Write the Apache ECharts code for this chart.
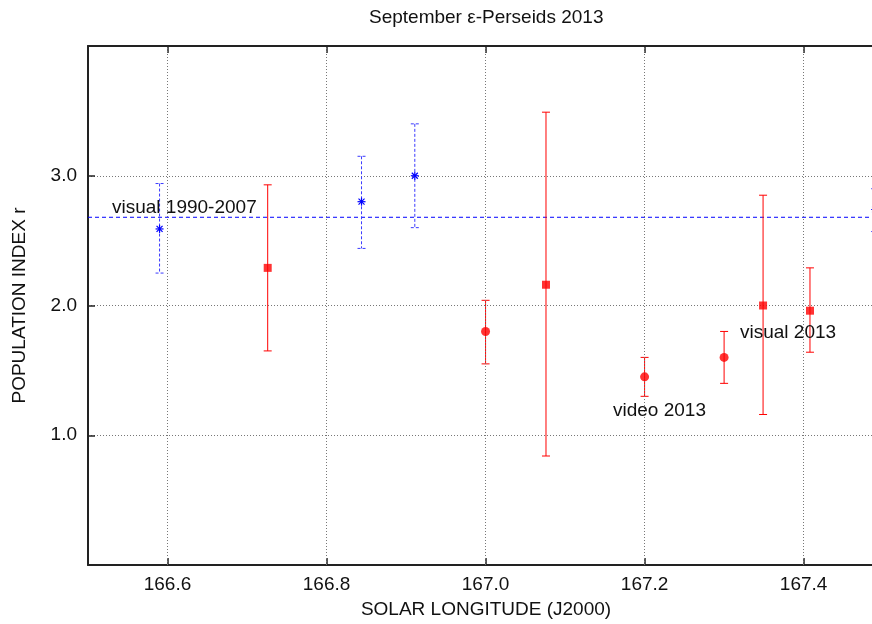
<!DOCTYPE html>
<html>
<head>
<meta charset="utf-8">
<style>
  html, body { margin: 0; padding: 0; background: #fff; }
  #chart { width: 872px; height: 624px; }
</style>
<script src="https://cdn.jsdelivr.net/npm/echarts@6/dist/echarts.min.js"></script>
</head>
<body>
<div id="chart"></div>
<script>
// Population index r of the September epsilon-Perseids, by solar longitude
const FONT = 'Liberation Sans, Arial, sans-serif';

// Visual observations 1990-2007 (blue asterisks, dashed error bars)
const visualOldLon  = [166.59, 166.844, 166.911, 167.49];
const visualOldR    = [2.59, 2.80, 3.00, 2.74];
const visualOldLow  = [2.25, 2.44, 2.60, 2.57];
const visualOldHigh = [2.94, 3.15, 3.40, 2.90];
const visualOldMean = 2.68;

// Visual observations 2013 (red squares)
const visual13Lon  = [166.726, 167.076, 167.349, 167.408];
const visual13R    = [2.29, 2.16, 2.00, 1.96];
const visual13Low  = [1.65, 0.84, 1.16, 1.64];
const visual13High = [2.93, 3.49, 2.85, 2.29];

// Video observations 2013 (red circles)
const video13Lon  = [167.0, 167.2, 167.3];
const video13R    = [1.80, 1.45, 1.60];
const video13Low  = [1.55, 1.30, 1.40];
const video13High = [2.04, 1.60, 1.80];

// Axis ticks; the visible window ends just short of 167.5
const xTicks = [166.6, 166.8, 167.0, 167.2, 167.4];
const xMin = 166.5, xMax = 167.486;
const yMin = 0, yMax = 4, yStep = 1;

function zip(...cols) {
  return cols[0].map((_, i) => cols.map(c => c[i]));
}

function segment(a, b, style) {
  return { type: 'line', shape: { x1: a[0], y1: a[1], x2: b[0], y2: b[1] }, style: style };
}

function errorBars(name, lon, low, high, stroke, dash) {
  return {
    name: name,
    type: 'custom',
    clip: true,
    z: 3,
    data: zip(lon, low, high),
    encode: { x: 0, y: [1, 2] },
    renderItem: function (params, api) {
      const x = api.value(0);
      const top = api.coord([x, api.value(2)]);
      const bot = api.coord([x, api.value(1)]);
      const w = 4;
      const style = { stroke: stroke, lineWidth: 1, lineDash: dash, fill: null };
      return {
        type: 'group',
        children: [
          segment(top, bot, style),
          segment([top[0] - w, top[1]], [top[0] + w, top[1]], style),
          segment([bot[0] - w, bot[1]], [bot[0] + w, bot[1]], style)
        ]
      };
    }
  };
}

const chart = echarts.init(document.getElementById('chart'), null, { renderer: 'canvas' });

const option = {
  animation: false,
  backgroundColor: '#ffffff',
  textStyle: { fontFamily: FONT },
  title: {
    text: 'September \u03b5-Perseids 2013',
    left: 369,
    top: 8,
    padding: 0,
    textStyle: { fontFamily: FONT, fontSize: 19, fontWeight: 'normal', color: '#111' }
  },
  grid: { left: 88, top: 46, right: 0, bottom: 57, containLabel: false },
  xAxis: [
    {
      type: 'value',
      min: xMin,
      max: xMax,
      name: 'SOLAR LONGITUDE (J2000)',
      nameLocation: 'middle',
      nameGap: 35,
      nameTextStyle: { fontFamily: FONT, fontSize: 19, color: '#111', padding: [0, 0, 0, 12] },
      axisLine: { show: true, onZero: false, lineStyle: { color: '#222', width: 2 } },
      axisTick: { show: true, inside: true, length: 7, customValues: xTicks, lineStyle: { color: '#222', width: 1.5 } },
      axisLabel: {
        customValues: xTicks,
        margin: 10,
        fontFamily: FONT, fontSize: 19, color: '#111',
        formatter: v => Number(v).toFixed(1)
      },
      splitLine: { show: false }
    },
    {
      type: 'value',
      position: 'top',
      min: xMin,
      max: xMax,
      axisLine: { show: true, onZero: false, lineStyle: { color: '#222', width: 2 } },
      axisTick: { show: true, inside: true, length: 7, customValues: xTicks, lineStyle: { color: '#222', width: 1.5 } },
      axisLabel: { show: false },
      splitLine: { show: false }
    }
  ],
  yAxis: {
    type: 'value',
    min: yMin,
    max: yMax,
    interval: yStep,
    name: 'POPULATION INDEX r',
    nameLocation: 'middle',
    nameGap: 59,
    nameTextStyle: { fontFamily: FONT, fontSize: 19, color: '#111' },
    axisLine: { show: true, onZero: false, lineStyle: { color: '#222', width: 2 } },
    axisTick: { show: true, inside: true, length: 7, lineStyle: { color: '#222', width: 1.5 } },
    axisLabel: {
      margin: 11,
      showMinLabel: false,
      showMaxLabel: false,
      fontFamily: FONT, fontSize: 19, color: '#111',
      formatter: v => Number(v).toFixed(1)
    },
    splitLine: { show: true, lineStyle: { color: '#777', width: 1, type: [1, 2] } }
  },
  series: [
    // vertical grid lines at the labelled longitudes
    {
      name: 'grid',
      type: 'line',
      data: [],
      silent: true,
      z: 1,
      color: '#777',
      markLine: {
        silent: true,
        symbol: 'none',
        animation: false,
        label: { show: false },
        lineStyle: { color: '#777', width: 1, type: [1, 2] },
        data: xTicks.map(v => ({ xAxis: v }))
      }
    },
    // long-term mean of the visual data
    {
      name: 'visual 1990-2007 mean',
      type: 'custom',
      clip: true,
      z: 2,
      data: [[xMin, xMax, visualOldMean]],
      encode: { x: [0, 1], y: 2 },
      renderItem: function (params, api) {
        const a = api.coord([api.value(0), api.value(2)]);
        const b = api.coord([api.value(1), api.value(2)]);
        return segment(a, b, { stroke: '#0000ff', lineWidth: 1, lineDash: [4, 3], fill: null });
      }
    },
    errorBars('visual 1990-2007 range', visualOldLon, visualOldLow, visualOldHigh, '#3a3aff', [3, 2]),
    {
      name: 'visual 1990-2007',
      type: 'custom',
      clip: true,
      z: 4,
      data: zip(visualOldLon, visualOldR),
      encode: { x: 0, y: 1 },
      renderItem: function (params, api) {
        const p = api.coord([api.value(0), api.value(1)]);
        const s = 4, d = 3;
        const style = { stroke: '#0000ff', lineWidth: 1.2, fill: null };
        return {
          type: 'group',
          children: [
            segment([p[0] - s, p[1]], [p[0] + s, p[1]], style),
            segment([p[0], p[1] - s], [p[0], p[1] + s], style),
            segment([p[0] - d, p[1] - d], [p[0] + d, p[1] + d], style),
            segment([p[0] - d, p[1] + d], [p[0] + d, p[1] - d], style)
          ]
        };
      }
    },
    errorBars('visual 2013 range', visual13Lon, visual13Low, visual13High, '#ff0000', null),
    {
      name: 'visual 2013',
      type: 'scatter',
      z: 5,
      symbol: 'rect',
      symbolSize: 8,
      itemStyle: { color: '#ff0000' },
      data: zip(visual13Lon, visual13R)
    },
    errorBars('video 2013 range', video13Lon, video13Low, video13High, '#ff0000', null),
    {
      name: 'video 2013',
      type: 'scatter',
      z: 5,
      symbol: 'circle',
      symbolSize: 9,
      itemStyle: { color: '#ff0000' },
      data: zip(video13Lon, video13R)
    }
  ],
  graphic: [
    { type: 'text', z: 10, style: { text: 'visual 1990-2007', x: 112, y: 208, verticalAlign: 'middle', font: '19px ' + FONT, fill: '#111' } },
    { type: 'text', z: 10, style: { text: 'video 2013', x: 613, y: 411, verticalAlign: 'middle', font: '19px ' + FONT, fill: '#111' } },
    { type: 'text', z: 10, style: { text: 'visual 2013', x: 740, y: 333, verticalAlign: 'middle', font: '19px ' + FONT, fill: '#111' } }
  ]
};

chart.setOption(option);
</script>
</body>
</html>
